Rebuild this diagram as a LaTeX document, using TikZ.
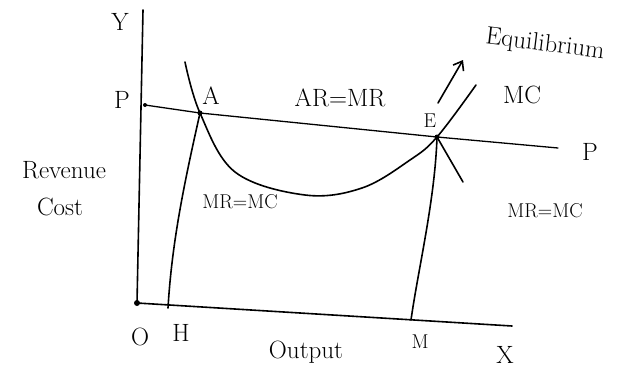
\documentclass[tikz,border=0pt]{standalone}
\usepackage{fontspec}
\usetikzlibrary{arrows.meta}
\begin{document}
\begin{tikzpicture}[x=1pt,y=-1pt,
  curve/.style={line width=1.6pt,line cap=round,line join=round},
  lbl/.style={font=\fontsize{25}{28}\selectfont,inner sep=0pt},
  slbl/.style={font=\fontsize{20}{24}\selectfont,inner sep=0pt}]
\useasboundingbox (0,0) rectangle (637,372);
% key points
\coordinate (Ytop) at (143,10);
\coordinate (O) at (137,303);
\coordinate (Xend) at (512,326);
\coordinate (Pl) at (145,105);
\coordinate (A) at (200,113);
\coordinate (E) at (437,137);
\coordinate (Pr) at (558,148);
\coordinate (Hb) at (168,308);
\coordinate (Mb) at (411,320);
\coordinate (MCtop) at (476,85);
\coordinate (MCstart) at (185,62);
\coordinate (MRend) at (463,182);
\coordinate (Arr0) at (438,103);
\coordinate (Arr1) at (463,60);
% axes
\draw[curve] (Ytop) -- (O) -- (Xend);
\fill (O) circle (3pt);
% price line
\draw[curve,line width=1.3pt] (Pl) -- (A) -- (E) -- (Pr);
\fill (Pl) circle (2pt);
% MC curve
\draw[curve] plot[smooth,tension=0.6] coordinates {(MCstart) (A) (235,172) (305,195) (362,188) (410,160) (E) (MCtop)};
% verticals
\draw[curve] (A) .. controls (185,180) and (172,240) .. (Hb);
\draw[curve] (E) .. controls (435,200) and (418,270) .. (Mb);
\draw[curve] (E) -- (MRend);
\fill (A) circle (2.5pt);
\fill (E) circle (2.5pt);
% equilibrium arrow
\draw[curve,-{Straight Barb[length=8pt,width=12pt]}] (Arr0) -- (Arr1);
% labels
\node[lbl] (lY) at (120,22) {Y};
\node[lbl] (lP) at (122,100) {P};
\node[lbl] (lA) at (211,96) {A};
\node[lbl] (lARMR) at (340,98) {AR=MR};
\node[slbl] (lE) at (430,121) {E};
\node[lbl] (lMC) at (522,95) {MC};
\node[lbl,rotate=-7] (lEq) at (545,45) {Equilibrium};
\node[lbl] (lPr) at (590,152) {P};
\node[lbl] (lRev) at (64,170) {Revenue};
\node[lbl] (lCost) at (60,207) {Cost};
\node[slbl] (lMR1) at (240,202) {MR=MC};
\node[slbl] (lMR2) at (545,211) {MR=MC};
\node[lbl] (lO) at (140,337) {O};
\node[lbl] (lH) at (181,333) {H};
\node[slbl] (lM) at (420,342) {M};
\node[lbl] (lOut) at (306,352) {Output};
\node[lbl] (lX) at (505,355) {X};
\end{tikzpicture}
\end{document}
